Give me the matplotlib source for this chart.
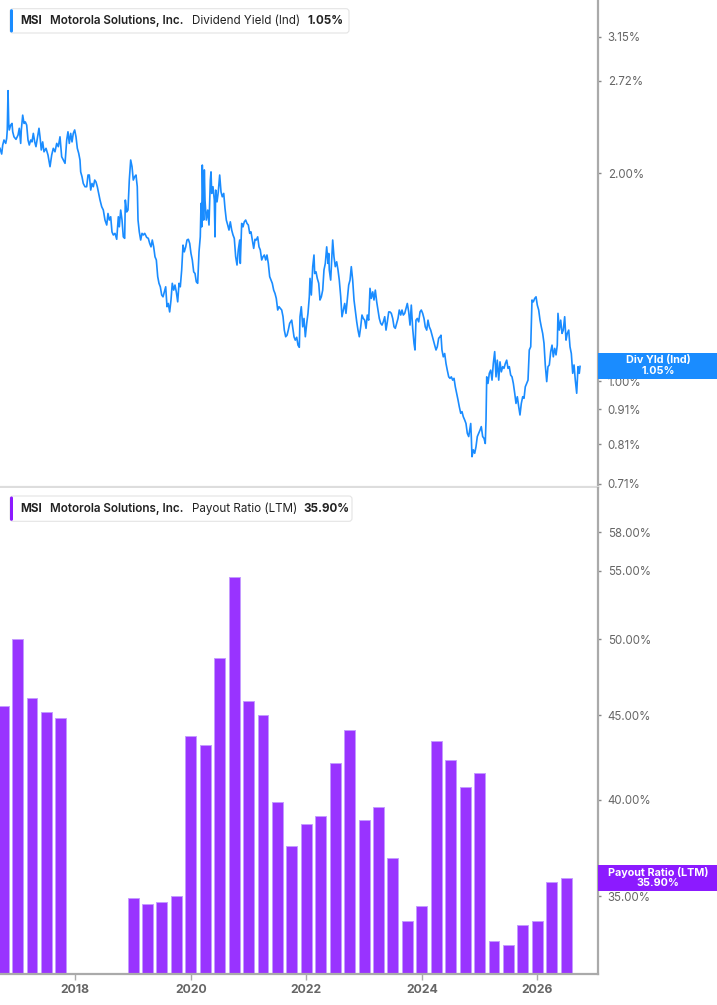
import numpy as np
import pandas as pd
import matplotlib
matplotlib.use('Agg')
import matplotlib.pyplot as plt
from matplotlib.patches import FancyBboxPatch, Rectangle
from matplotlib.transforms import IdentityTransform
from matplotlib.ticker import FixedLocator, NullLocator

plt.rcParams['font.family'] = ['Inter', 'DejaVu Sans']

# dividend yield (Ind), % -- decimal year / value
yld_t = [2016.696, 2016.725, 2016.743, 2016.765, 2016.795, 2016.812, 2016.822, 2016.835, 2016.847, 2016.857,
         2016.881, 2016.904, 2016.916, 2016.938, 2016.973, 2017.008, 2017.030, 2017.054, 2017.065, 2017.089,
         2017.112, 2017.134, 2017.158, 2017.181, 2017.203, 2017.228, 2017.250, 2017.273, 2017.297, 2017.319,
         2017.342, 2017.371, 2017.389, 2017.411, 2017.435, 2017.458, 2017.493, 2017.527, 2017.562, 2017.591,
         2017.619, 2017.648, 2017.678, 2017.706, 2017.735, 2017.764, 2017.792, 2017.822, 2017.851, 2017.873,
         2017.896, 2017.920, 2017.943, 2017.965, 2017.989, 2018.012, 2018.035, 2018.059, 2018.081, 2018.093,
         2018.116, 2018.138, 2018.168, 2018.197, 2018.220, 2018.242, 2018.267, 2018.289, 2018.312, 2018.336,
         2018.358, 2018.381, 2018.405, 2018.428, 2018.457, 2018.485, 2018.514, 2018.544, 2018.566, 2018.589,
         2018.613, 2018.635, 2018.658, 2018.687, 2018.717, 2018.745, 2018.762, 2018.786, 2018.809, 2018.831,
         2018.855, 2018.866, 2018.890, 2018.912, 2018.935, 2018.959, 2018.982, 2019.004, 2019.028, 2019.051,
         2019.073, 2019.086, 2019.108, 2019.132, 2019.155, 2019.177, 2019.202, 2019.236, 2019.264, 2019.288,
         2019.311, 2019.333, 2019.357, 2019.380, 2019.403, 2019.427, 2019.449, 2019.472, 2019.496, 2019.519,
         2019.541, 2019.565, 2019.588, 2019.610, 2019.634, 2019.657, 2019.679, 2019.704, 2019.726, 2019.749,
         2019.773, 2019.796, 2019.818, 2019.842, 2019.865, 2019.887, 2019.912, 2019.934, 2019.957, 2019.981,
         2020.003, 2020.026, 2020.050, 2020.073, 2020.095, 2020.119, 2020.142, 2020.164, 2020.177, 2020.189,
         2020.199, 2020.211, 2020.223, 2020.234, 2020.246, 2020.268, 2020.293, 2020.315, 2020.338, 2020.350,
         2020.362, 2020.384, 2020.407, 2020.419, 2020.431, 2020.454, 2020.476, 2020.500, 2020.523, 2020.545,
         2020.570, 2020.592, 2020.615, 2020.639, 2020.661, 2020.684, 2020.708, 2020.731, 2020.753, 2020.777,
         2020.800, 2020.822, 2020.847, 2020.857, 2020.881, 2020.904, 2020.926, 2020.950, 2020.973, 2020.996,
         2021.020, 2021.042, 2021.065, 2021.089, 2021.112, 2021.134, 2021.158, 2021.181, 2021.203, 2021.228,
         2021.250, 2021.273, 2021.297, 2021.319, 2021.342, 2021.366, 2021.389, 2021.411, 2021.435, 2021.458,
         2021.480, 2021.505, 2021.527, 2021.550, 2021.574, 2021.597, 2021.619, 2021.643, 2021.666, 2021.688,
         2021.712, 2021.747, 2021.770, 2021.787, 2021.809, 2021.834, 2021.856, 2021.879, 2021.891, 2021.913,
         2021.938, 2021.960, 2021.983, 2022.007, 2022.029, 2022.052, 2022.064, 2022.087, 2022.111, 2022.133,
         2022.145, 2022.168, 2022.190, 2022.215, 2022.237, 2022.260, 2022.284, 2022.306, 2022.329, 2022.353,
         2022.376, 2022.388, 2022.398, 2022.422, 2022.445, 2022.457, 2022.479, 2022.502, 2022.526, 2022.549,
         2022.571, 2022.596, 2022.618, 2022.641, 2022.665, 2022.687, 2022.710, 2022.734, 2022.757, 2022.779,
         2022.803, 2022.826, 2022.848, 2022.873, 2022.895, 2022.918, 2022.942, 2022.964, 2022.987, 2023.011,
         2023.034, 2023.056, 2023.080, 2023.103, 2023.125, 2023.150, 2023.172, 2023.195, 2023.219, 2023.242,
         2023.264, 2023.288, 2023.311, 2023.333, 2023.358, 2023.380, 2023.403, 2023.427, 2023.449, 2023.472,
         2023.496, 2023.519, 2023.541, 2023.565, 2023.588, 2023.610, 2023.635, 2023.657, 2023.680, 2023.704,
         2023.726, 2023.749, 2023.773, 2023.796, 2023.818, 2023.842, 2023.865, 2023.882, 2023.899, 2023.922,
         2023.946, 2023.969, 2023.991, 2024.015, 2024.038, 2024.060, 2024.085, 2024.107, 2024.130, 2024.154,
         2024.177, 2024.199, 2024.223, 2024.246, 2024.268, 2024.292, 2024.315, 2024.332, 2024.349, 2024.372,
         2024.396, 2024.419, 2024.441, 2024.466, 2024.488, 2024.511, 2024.535, 2024.558, 2024.580, 2024.604,
         2024.627, 2024.649, 2024.674, 2024.696, 2024.718, 2024.743, 2024.765, 2024.788, 2024.812, 2024.835,
         2024.847, 2024.857, 2024.869, 2024.892, 2024.916, 2024.938, 2024.961, 2024.985, 2025.008, 2025.030,
         2025.054, 2025.077, 2025.099, 2025.112, 2025.124, 2025.146, 2025.169, 2025.193, 2025.216, 2025.238,
         2025.262, 2025.285, 2025.307, 2025.332, 2025.354, 2025.377, 2025.401, 2025.423, 2025.446, 2025.470,
         2025.493, 2025.515, 2025.539, 2025.562, 2025.585, 2025.609, 2025.631, 2025.654, 2025.678, 2025.700,
         2025.723, 2025.747, 2025.770, 2025.792, 2025.816, 2025.839, 2025.861, 2025.886, 2025.908, 2025.931,
         2025.955, 2025.978, 2026.000, 2026.024, 2026.047, 2026.069, 2026.093, 2026.116, 2026.138, 2026.163,
         2026.185, 2026.208, 2026.232, 2026.255, 2026.277, 2026.301, 2026.324, 2026.346, 2026.358, 2026.381,
         2026.405, 2026.428, 2026.450, 2026.474, 2026.497, 2026.519, 2026.544, 2026.566, 2026.589, 2026.613,
         2026.636, 2026.658, 2026.682, 2026.705, 2026.727, 2026.740]
yld_v = [2.172, 2.131, 2.196, 2.233, 2.208, 2.246, 2.309, 2.632, 2.360, 2.309,
         2.347, 2.360, 2.295, 2.257, 2.238, 2.270, 2.322, 2.208, 2.309, 2.426,
         2.360, 2.372, 2.347, 2.233, 2.196, 2.233, 2.219, 2.283, 2.219, 2.184,
         2.246, 2.322, 2.257, 2.160, 2.219, 2.147, 2.172, 2.124, 2.043, 2.124,
         2.172, 2.147, 2.208, 2.184, 2.257, 2.112, 2.089, 2.066, 2.233, 2.295,
         2.208, 2.283, 2.219, 2.283, 2.309, 2.257, 2.172, 2.136, 2.089, 2.008,
         1.976, 1.932, 1.911, 1.911, 1.987, 1.987, 1.890, 1.932, 1.911, 1.954,
         1.942, 1.911, 1.869, 1.828, 1.788, 1.768, 1.710, 1.682, 1.748, 1.710,
         1.729, 1.644, 1.627, 1.636, 1.604, 1.729, 1.672, 1.768, 1.710, 1.617,
         1.609, 1.828, 1.757, 1.768, 1.954, 2.089, 2.043, 1.954, 1.976, 1.987,
         1.911, 1.710, 1.644, 1.600, 1.636, 1.627, 1.636, 1.614, 1.609, 1.582,
         1.564, 1.600, 1.564, 1.513, 1.497, 1.416, 1.385, 1.369, 1.332, 1.324,
         1.346, 1.369, 1.281, 1.295, 1.259, 1.310, 1.385, 1.354, 1.377, 1.346,
         1.302, 1.385, 1.369, 1.448, 1.573, 1.538, 1.564, 1.600, 1.604, 1.582,
         1.530, 1.497, 1.439, 1.431, 1.392, 1.385, 1.538, 1.617, 1.808, 1.672,
         2.054, 1.828, 1.710, 2.021, 1.828, 1.710, 1.768, 1.682, 1.954, 2.008,
         1.869, 1.911, 1.828, 1.617, 1.890, 1.817, 1.879, 1.987, 1.879, 1.848,
         1.869, 1.778, 1.710, 1.682, 1.654, 1.700, 1.654, 1.627, 1.609, 1.513,
         1.472, 1.548, 1.600, 1.480, 1.691, 1.672, 1.700, 1.710, 1.691, 1.682,
         1.636, 1.644, 1.600, 1.556, 1.604, 1.600, 1.617, 1.564, 1.548, 1.497,
         1.513, 1.522, 1.497, 1.522, 1.480, 1.416, 1.400, 1.385, 1.354, 1.339,
         1.317, 1.267, 1.281, 1.274, 1.267, 1.239, 1.185, 1.159, 1.165, 1.185,
         1.212, 1.225, 1.185, 1.159, 1.146, 1.157, 1.127, 1.119, 1.239, 1.281,
         1.198, 1.232, 1.159, 1.212, 1.253, 1.324, 1.408, 1.332, 1.464, 1.522,
         1.431, 1.439, 1.408, 1.385, 1.310, 1.324, 1.354, 1.448, 1.480, 1.564,
         1.480, 1.530, 1.448, 1.400, 1.530, 1.600, 1.513, 1.464, 1.488, 1.448,
         1.400, 1.324, 1.239, 1.267, 1.295, 1.253, 1.310, 1.377, 1.400, 1.464,
         1.400, 1.310, 1.267, 1.218, 1.185, 1.159, 1.198, 1.246, 1.232, 1.225,
         1.192, 1.246, 1.225, 1.362, 1.317, 1.346, 1.310, 1.354, 1.302, 1.267,
         1.232, 1.212, 1.205, 1.218, 1.239, 1.185, 1.218, 1.259, 1.259, 1.253,
         1.232, 1.198, 1.192, 1.212, 1.232, 1.267, 1.246, 1.267, 1.246, 1.253,
         1.274, 1.295, 1.259, 1.205, 1.288, 1.192, 1.134, 1.109, 1.225, 1.232,
         1.218, 1.259, 1.267, 1.253, 1.232, 1.198, 1.185, 1.225, 1.198, 1.185,
         1.165, 1.146, 1.127, 1.109, 1.121, 1.153, 1.159, 1.165, 1.109, 1.084,
         1.096, 1.060, 1.037, 1.014, 1.009, 1.014, 1.003, 1.009, 0.981, 0.960,
         0.939, 0.918, 0.898, 0.903, 0.888, 0.878, 0.868, 0.840, 0.831, 0.854,
         0.868, 0.831, 0.777, 0.795, 0.786, 0.803, 0.831, 0.840, 0.849, 0.859,
         0.831, 0.826, 0.812, 0.878, 1.014, 0.992, 1.026, 1.037, 1.003, 1.060,
         1.103, 1.014, 1.072, 1.003, 1.066, 1.031, 1.049, 1.043, 1.060, 1.072,
         1.043, 1.049, 1.020, 1.014, 0.992, 0.960, 0.928, 0.949, 0.918, 0.893,
         0.928, 0.949, 0.944, 0.981, 0.992, 1.003, 1.109, 1.121, 1.310, 1.302,
         1.317, 1.324, 1.288, 1.267, 1.225, 1.198, 1.172, 1.134, 1.055, 0.998,
         1.049, 1.055, 1.103, 1.127, 1.084, 1.115, 1.091, 1.127, 1.253, 1.185,
         1.225, 1.172, 1.185, 1.239, 1.146, 1.172, 1.185, 1.121, 1.096, 1.026,
         1.055, 1.003, 0.960, 1.049, 1.026, 1.050]

# payout ratio (LTM), % per quarter (None = no value)
pay_q = pd.period_range('2016Q3', '2026Q2', freq='Q')
pay_v = [45.6, 50.0, 46.1, 45.2, 44.8, None, None, None, None,
         34.9, 34.6, 34.7, 35.0, 43.7, 43.2, 48.7, 54.5, 45.9, 45.0,
         39.9, 37.5, 38.7, 39.1, 42.1, 44.1, 38.9, 39.6, 36.9, 33.8,
         34.5, 43.4, 42.3, 40.7, 41.5, 32.9, 32.7, 33.6, 33.8, 35.7, 35.9]

yld_ticks = [3.15, 2.72, 2.00, 1.00, 0.91, 0.81, 0.71]
pay_ticks = [58, 55, 50, 45, 40, 35]
year_ticks = [2018, 2020, 2022, 2024, 2026]

BLUE = '#1a8cff'
PURPLE = '#9933ff'
PURPLE_DK = '#8c1aff'
W, H = 717, 1005


def fx(x):
    return x / W


def fy(y):
    return 1 - y / H


fig = plt.figure(figsize=(W / 100, H / 100), dpi=100)
ax1 = fig.add_axes([0, fy(487), fx(598), 487 / H])
ax2 = fig.add_axes([0, fy(974), fx(598), (974 - 488) / H])

xlim = (2016.696, 2027.051)

# top: dividend yield line
ax1.plot(yld_t, yld_v, color=BLUE, lw=1.2, solid_joinstyle='round')
ax1.set_yscale('log')
ax1.set_ylim(0.7024, 3.561)
ax1.set_xlim(*xlim)

# bottom: payout ratio bars
pos = [p.year + p.quarter / 4 for p in pay_q]
bx = [p for p, v in zip(pos, pay_v) if v is not None]
bv = [v for v in pay_v if v is not None]
ax2.bar(bx, bv, width=0.19, color=PURPLE, edgecolor='#c49bff', linewidth=0.7)
ax2.set_yscale('log')
ax2.set_ylim(31.41, 61.69)
ax2.set_xlim(*xlim)

for ax, ticks, fmt in [(ax1, yld_ticks, '{:.2f}%'), (ax2, pay_ticks, '{:.2f}%')]:
    ax.yaxis.tick_right()
    ax.yaxis.set_major_locator(FixedLocator(ticks))
    ax.yaxis.set_minor_locator(NullLocator())
    ax.set_yticklabels([fmt.format(t) for t in ticks])
    ax.tick_params(axis='y', length=2.5, width=1, color='#888888',
                   labelsize=8.3, labelcolor='#666666', pad=4.5)
    for s in ['top', 'left']:
        ax.spines[s].set_visible(False)
    ax.spines['right'].set_color('#aaaaaa')
    ax.spines['right'].set_linewidth(1.6)

ax1.tick_params(axis='x', bottom=False, labelbottom=False)
ax1.spines['bottom'].set_color('#dddddd')
ax1.spines['bottom'].set_linewidth(1.6)

ax2.spines['bottom'].set_color('#aaaaaa')
ax2.spines['bottom'].set_linewidth(1.6)
ax2.set_xticks(year_ticks)
ax2.set_xticklabels([str(y) for y in year_ticks], fontweight='bold')
ax2.tick_params(axis='x', length=4, width=1, color='#aaaaaa',
                labelsize=8.8, labelcolor='#666666', pad=3)
ax2.xaxis.set_minor_locator(NullLocator())


def legend_box(y0, y1, x1, color, parts):
    box = FancyBboxPatch((10, H - y1), x1 - 10, y1 - y0,
                         boxstyle='round,pad=0,rounding_size=3',
                         transform=IdentityTransform(),
                         facecolor='white', edgecolor='#e4e4e4', lw=0.8)
    fig.add_artist(box)
    acc = FancyBboxPatch((10, H - y1 + 0.5), 3, y1 - y0 - 1,
                         boxstyle='round,pad=0,rounding_size=1.5',
                         transform=IdentityTransform(),
                         facecolor=color, edgecolor='none')
    fig.add_artist(acc)
    yc = (y0 + y1) / 2
    for x, s, wt in parts:
        fig.text(fx(x), fy(yc), s, ha='left', va='center', fontsize=8.4,
                 color='#222222', fontweight=wt)


legend_box(8.7, 33, 349, BLUE,
           [(20, 'MSI', 'bold'), (50, 'Motorola Solutions, Inc.', 'semibold'),
            (192, 'Dividend Yield (Ind)', 'normal'), (307, '1.05%', 'bold')])
legend_box(496, 521.3, 352, PURPLE_DK,
           [(20, 'MSI', 'bold'), (50, 'Motorola Solutions, Inc.', 'semibold'),
            (192, 'Payout Ratio (LTM)', 'normal'), (303, '35.90%', 'bold')])


def value_tag(y0, y1, color, l1, l2):
    fig.add_artist(Rectangle((fx(598), fy(y1)), fx(717) - fx(598), (y1 - y0) / H,
                             transform=fig.transFigure, facecolor=color,
                             edgecolor='none', zorder=5))
    yc = (y0 + y1) / 2
    fig.text(fx(658), fy(yc - 5.8), l1, ha='center', va='center', fontsize=7.8,
             color='white', fontweight='bold', zorder=6)
    fig.text(fx(658), fy(yc + 5.6), l2, ha='center', va='center', fontsize=7.8,
             color='white', fontweight='bold', zorder=6)


value_tag(353, 378.7, BLUE, 'Div Yld (Ind)', '1.05%')
value_tag(865, 890.7, PURPLE_DK, 'Payout Ratio (LTM)', '35.90%')

fig.savefig('out.png', dpi=100)
